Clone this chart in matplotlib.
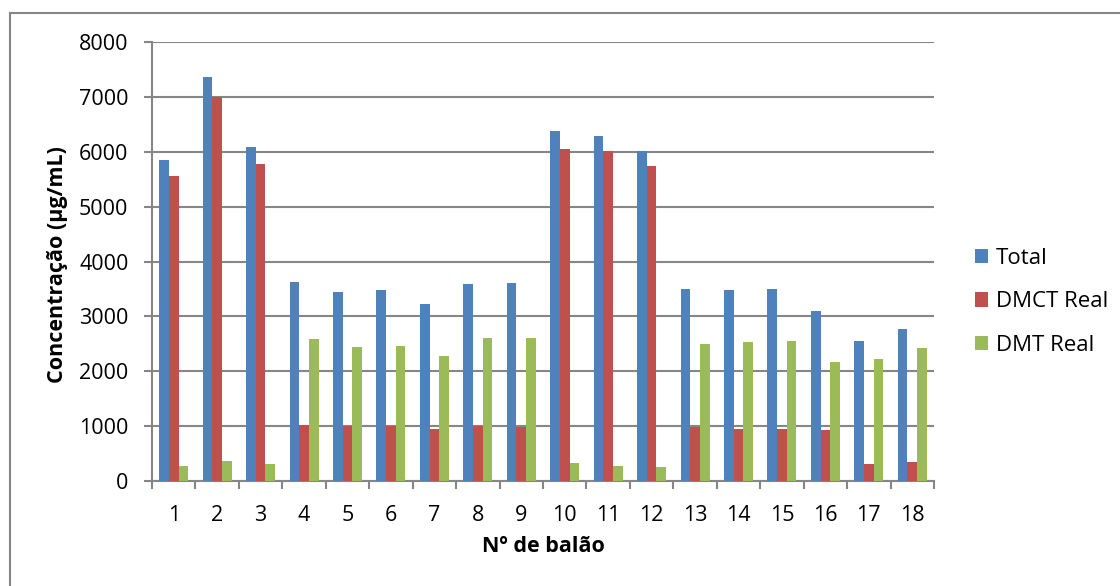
"""
Concentração por balão: Total, DMCT Real e DMT Real
"""

import numpy as np
import matplotlib.pyplot as plt
from matplotlib.patches import Rectangle

plt.rcParams['font.family'] = ['Open Sans', 'DejaVu Sans']

# Data
baloes = [str(i) for i in range(1, 19)]
total = [5850, 7370, 6095, 3620, 3445, 3475, 3220, 3595, 3605,
         6375, 6290, 6015, 3490, 3480, 3505, 3095, 2545, 2770]
dmct_real = [5560, 6995, 5780, 1020, 1005, 1005, 940, 1000, 980,
             6045, 6015, 5740, 980, 940, 955, 925, 315, 340]
dmt_real = [280, 360, 305, 2580, 2435, 2455, 2275, 2605, 2615,
            320, 270, 250, 2495, 2530, 2545, 2160, 2215, 2420]
y_ticks = [0, 1000, 2000, 3000, 4000, 5000, 6000, 7000, 8000]

blue = '#4F81BD'
red = '#C0504D'
green = '#9BBB59'
grid_grey = '#868686'

W, H = 1120, 586
fig = plt.figure(figsize=(W / 100, H / 100), dpi=100)

# outer chart frame (left and top edges visible)
fig.patches.append(Rectangle((10 / W, -0.1), 1.2, 1 - 13 / H + 0.1,
                             transform=fig.transFigure, fill=False,
                             edgecolor=grid_grey, linewidth=1.5))

left, right, top, bottom = 152, 934, 42, 481
ax = fig.add_axes([left / W, 1 - bottom / H, (right - left) / W, (bottom - top) / H])

x = np.arange(len(baloes))
bw = 0.222
ax.bar(x - bw, total, bw, color=blue, label='Total', zorder=3)
ax.bar(x, dmct_real, bw, color=red, label='DMCT Real', zorder=3)
ax.bar(x + bw, dmt_real, bw, color=green, label='DMT Real', zorder=3)

ax.set_xlim(-0.5, len(baloes) - 0.5)
ax.set_ylim(0, 8000)
ax.set_yticks(y_ticks)
ax.set_xticks(x)
ax.set_xticklabels(baloes)
ax.set_xticks(np.arange(-0.5, len(baloes)), minor=True)

ax.yaxis.grid(True, color=grid_grey, linewidth=1.5, zorder=0)
ax.set_axisbelow(True)

for side in ['top', 'right']:
    ax.spines[side].set_visible(False)
for side in ['left', 'bottom']:
    ax.spines[side].set_color(grid_grey)
    ax.spines[side].set_linewidth(1.5)

ax.tick_params(axis='y', length=6, width=1.5, color=grid_grey, pad=11, labelsize=15.5)
ax.tick_params(axis='x', which='major', length=0, pad=17, labelsize=15.5)
ax.tick_params(axis='x', which='minor', length=5.5, width=1.5, color=grid_grey)

ax.set_xlabel('Nº de balão', fontsize=15.5, fontweight='bold')
ax.xaxis.set_label_coords(0.5, -0.125)
ax.set_ylabel('Concentração (µg/mL)', fontsize=15.5, fontweight='bold')
ax.yaxis.set_label_coords(-0.108, 0.492)

ax.legend(loc='center left', bbox_to_anchor=(1.027, 0.408), frameon=False,
          fontsize=16, handlelength=0.6, handleheight=0.6,
          handletextpad=0.35, labelspacing=1.0)

plt.savefig('out.png', dpi=100)
